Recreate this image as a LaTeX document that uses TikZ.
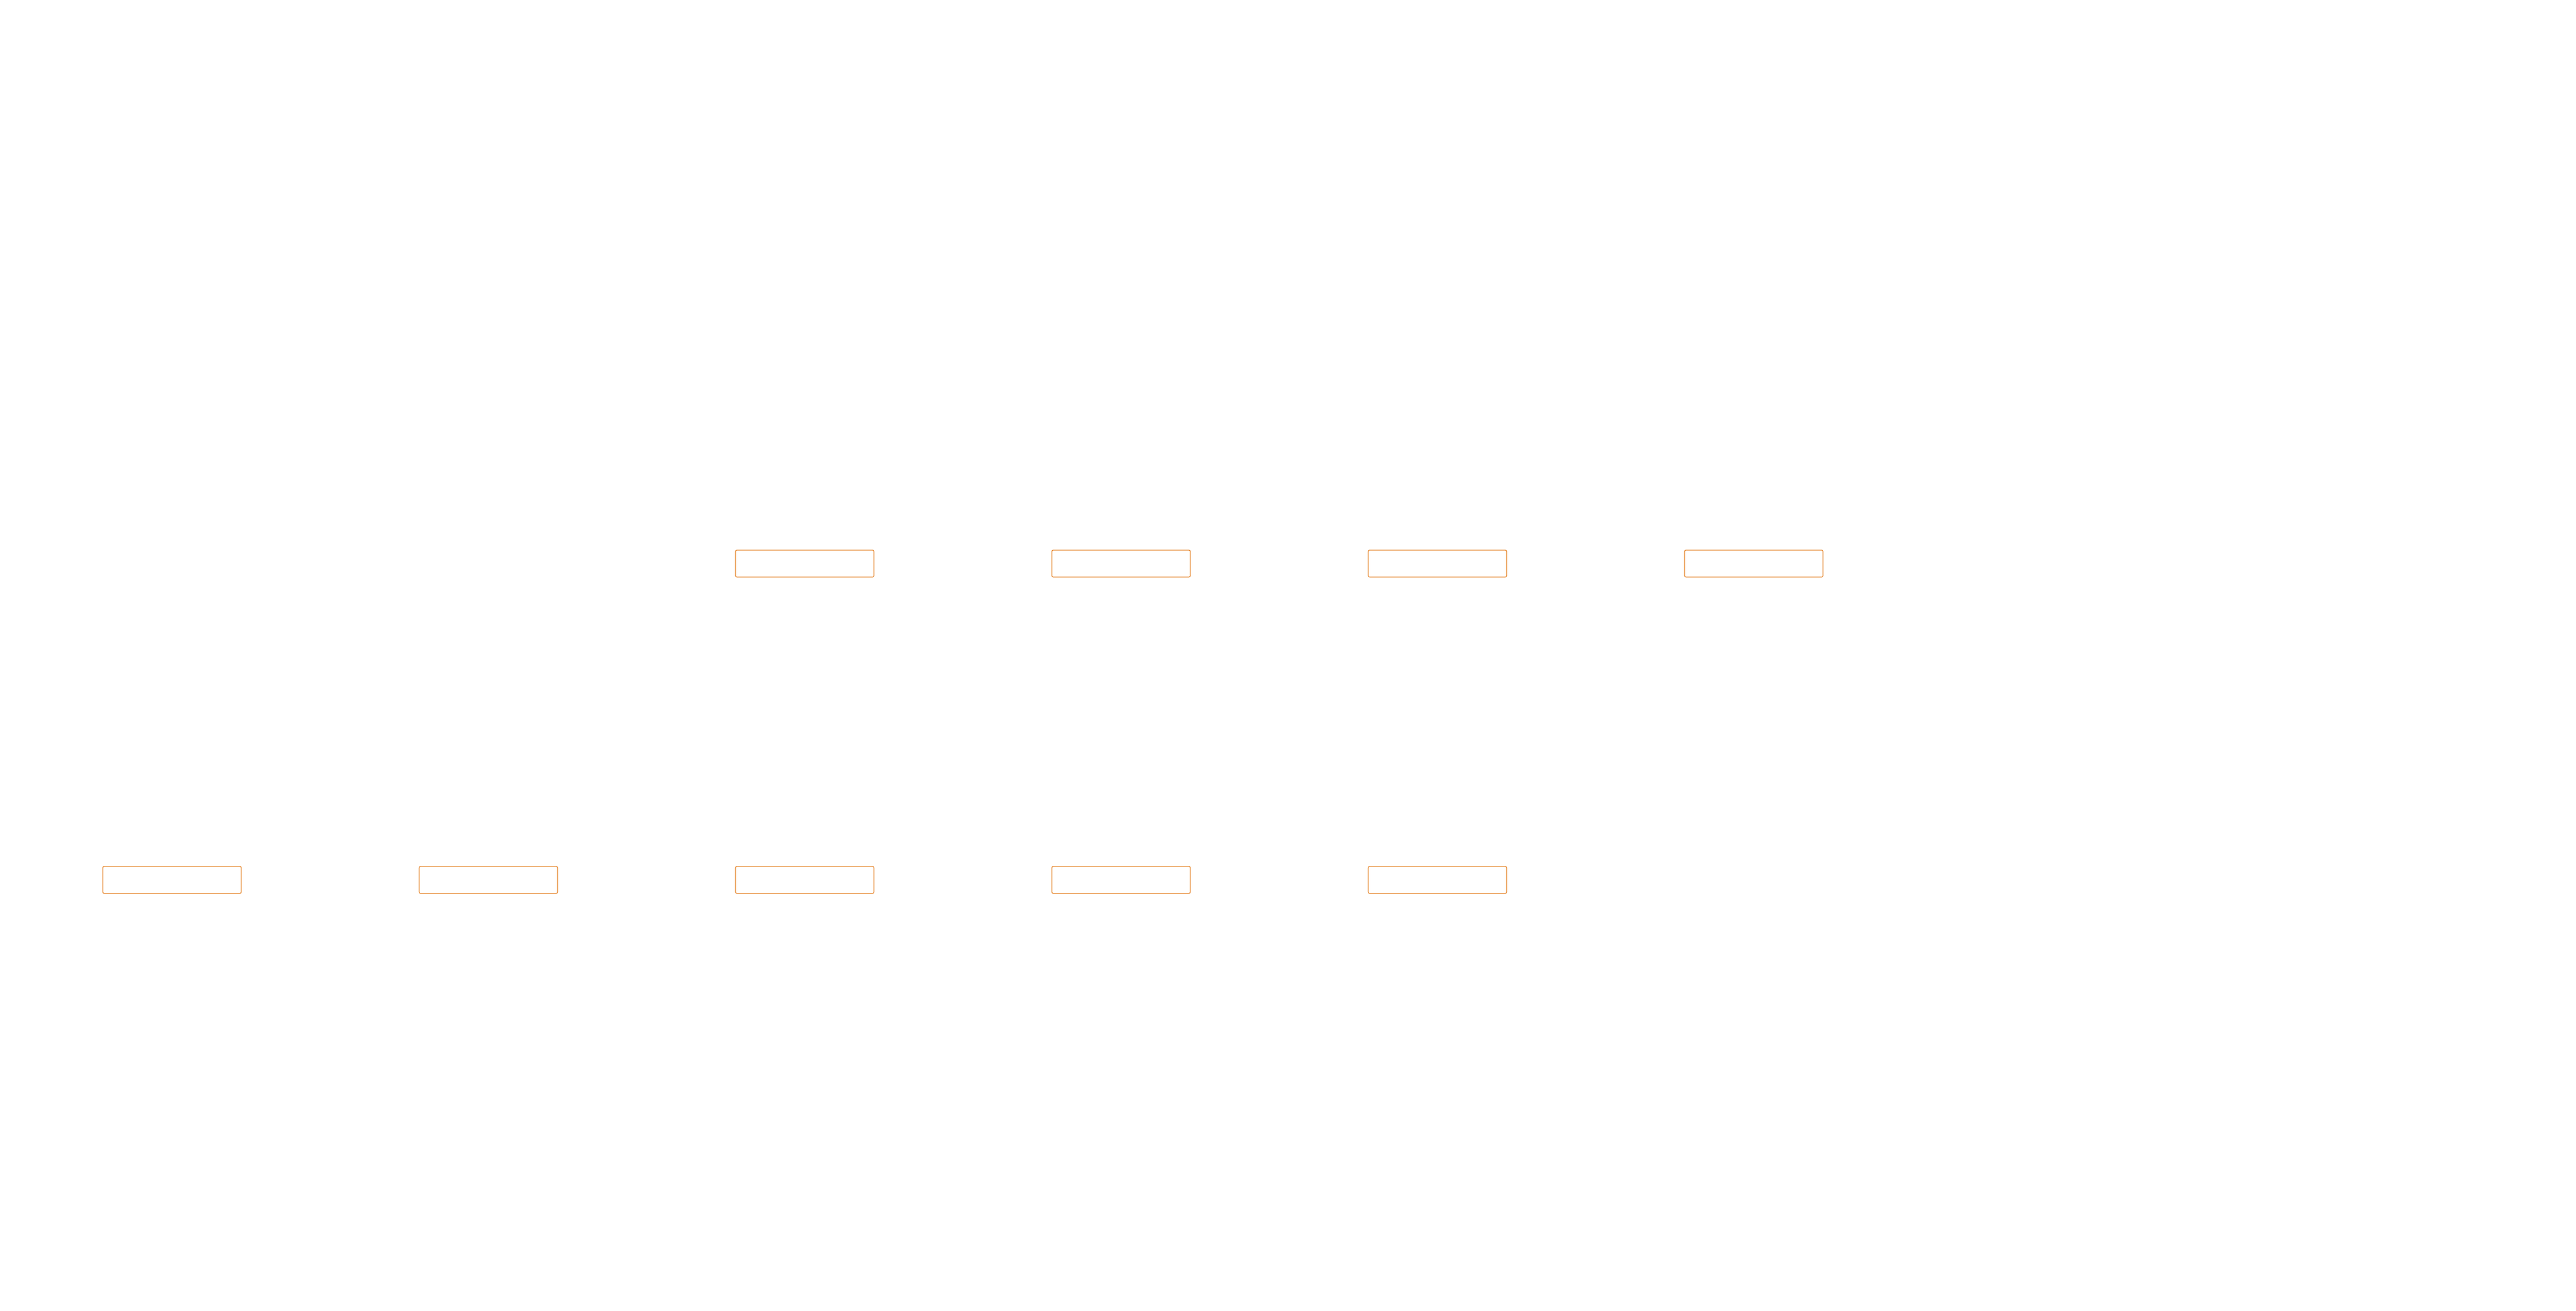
\documentclass[tikz,border=0pt]{standalone}
\usepackage{tikz}
\usetikzlibrary{positioning}
\definecolor{boxorange}{RGB}{230,134,44}

\begin{document}
\begin{tikzpicture}[
	blk/.style={draw=boxorange, line width=0.013cm, rounded corners=0.025cm,
		minimum width=2.451cm, minimum height=0.477cm, inner sep=0pt},
	node distance=3.136cm]
	\useasboundingbox[fill=white] (0,0) rectangle (45.6,23.2);
	% lower row
	\node[blk] (r2-1) at (3.045,7.622) {};
	\node[blk, right=of r2-1] (r2-2) {};
	\node[blk, right=of r2-2] (r2-3) {};
	\node[blk, right=of r2-3] (r2-4) {};
	\node[blk, right=of r2-4] (r2-5) {};
	% upper row
	\node[blk, above=5.11cm of r2-3] (r1-3) {};
	\node[blk, right=of r1-3] (r1-4) {};
	\node[blk, right=of r1-4] (r1-5) {};
	\node[blk, right=of r1-5] (r1-6) {};
\end{tikzpicture}
\end{document}
